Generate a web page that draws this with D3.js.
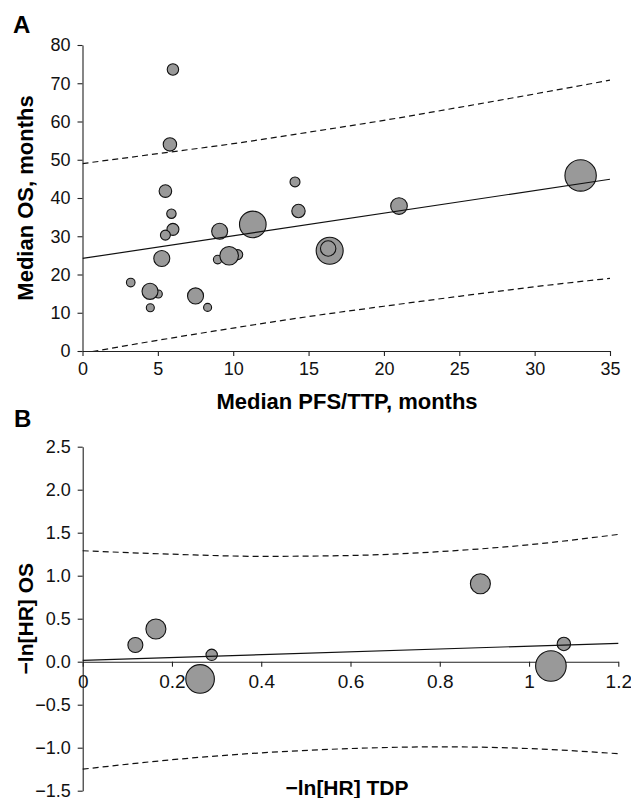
<!DOCTYPE html>
<html>
  <head>
    <meta charset="utf-8">
    <title>PFS vs OS</title>
    <style>
      body { margin: 0; background: #fff; }
      svg { display: block; }
    </style>
  </head>
  <body>
    <div id="container"></div>
    <script type="text/javascript" src="https://cdn.jsdelivr.net/npm/d3@7"></script>
    <script>
      // panel A: median PFS/TTP vs median OS (months), bubble = sample size
      var pfsA = [6.0, 5.8, 5.5, 14.1, 5.9, 6.0, 5.5, 5.03, 4.48, 5.26, 3.2, 4.5,
                  7.5, 8.3, 9.1, 8.97, 10.3, 9.73, 11.3, 14.33, 16.4, 16.3, 21.0, 33.05];
      var osA  = [73.6, 54.0, 41.8, 44.2, 35.9, 31.8, 30.3, 14.9, 15.6, 24.2, 17.9, 11.3,
                  14.4, 11.4, 31.3, 23.9, 25.2, 24.9, 33.1, 36.6, 26.2, 26.8, 37.9, 45.9];
      var nA   = [132, 182, 161, 101, 90, 146, 101, 65, 260, 260, 75, 65,
                  260, 65, 260, 75, 101, 351, 718, 182, 740, 241, 280, 1000];
      var fitAx = [0, 35], fitAy = [24.2, 44.9];
      var bandAx = [0, 5, 10, 15, 20, 25, 30, 35];
      var upperA = [49.0, 51.6, 54.2, 57.2, 60.3, 63.7, 67.2, 70.8];
      var lowerA = [-0.6, 2.8, 6.0, 9.0, 11.7, 14.3, 16.8, 19.0];
      var ticksAx = [0, 5, 10, 15, 20, 25, 30, 35];
      var ticksAy = [0, 10, 20, 30, 40, 50, 60, 70, 80];

      // panel B: -ln[HR] TDP vs -ln[HR] OS
      var tdpB = [0.118, 0.164, 0.289, 0.263, 0.891, 1.078, 1.049];
      var osB  = [0.194, 0.38, 0.08, -0.20, 0.907, 0.206, -0.05];
      var nB   = [228, 406, 132, 830, 406, 182, 950];
      var fitBx = [0, 1.2], fitBy = [0.015, 0.214];
      var bandBx = [0, 0.2, 0.4, 0.6, 0.8, 1.0, 1.2];
      var upperB = [1.29, 1.25, 1.225, 1.235, 1.28, 1.36, 1.48];
      var lowerB = [-1.25, -1.14, -1.06, -1.01, -0.99, -1.01, -1.07];
      var ticksBx = [0, 0.2, 0.4, 0.6, 0.8, 1, 1.2];
      var ticksBy = [-1.5, -1.0, -0.5, 0, 0.5, 1.0, 1.5, 2.0, 2.5];

      var font = "'Liberation Sans', Arial, sans-serif";
      var width = 631, height = 798;

      var svg = d3.select("#container").append("svg")
        .attr("width", width)
        .attr("height", height)
        .attr("font-family", font);

      var r = d3.scaleSqrt().domain([0, 1000]).range([0, 15.7]);

      function styleAxis(g, size) {
        g.attr("font-family", font).attr("font-size", size);
        g.selectAll("path, line").attr("stroke", "#222").attr("stroke-width", 1.1);
        g.selectAll("text").attr("fill", "#111");
      }

      function dashed(g, xs, ys, x, y) {
        var line = d3.line()
          .x(function(d, i) { return x(xs[i]); })
          .y(function(d) { return y(d); })
          .curve(d3.curveMonotoneX);
        g.append("path")
          .attr("d", line(ys))
          .attr("fill", "none")
          .attr("stroke", "#111")
          .attr("stroke-width", 1.2)
          .attr("stroke-dasharray", "6,4");
      }

      // ---------- panel A ----------
      var xA = d3.scaleLinear().domain([0, 35]).range([82.5, 610]);
      var yA = d3.scaleLinear().domain([0, 80]).range([351, 45]);

      svg.append("clipPath").attr("id", "clipA")
        .append("rect").attr("x", xA(0)).attr("y", yA(80))
        .attr("width", xA(35) - xA(0)).attr("height", yA(0) - yA(80));

      var gA = svg.append("g");
      gA.append("g")
        .attr("transform", "translate(0," + yA(0) + ")")
        .call(d3.axisBottom(xA).tickValues(ticksAx).tickSize(5).tickPadding(6).tickSizeOuter(0))
        .call(styleAxis, 18);
      gA.append("g")
        .attr("transform", "translate(" + xA(0) + ",0)")
        .call(d3.axisLeft(yA).tickValues(ticksAy).tickSize(5).tickPadding(7).tickSizeOuter(0))
        .call(styleAxis, 18);

      gA.selectAll("circle.pt")
        .data(pfsA)
      .enter().append("circle")
        .attr("class", "pt")
        .attr("cx", function(d) { return xA(d); })
        .attr("cy", function(d, i) { return yA(osA[i]); })
        .attr("r", function(d, i) { return r(nA[i]); })
        .attr("fill", "#999")
        .attr("stroke", "#111")
        .attr("stroke-width", 1.1);

      var linesA = gA.append("g").attr("clip-path", "url(#clipA)");
      dashed(linesA, bandAx, upperA, xA, yA);
      dashed(linesA, bandAx, lowerA, xA, yA);
      linesA.append("line")
        .attr("x1", xA(fitAx[0])).attr("y1", yA(fitAy[0]))
        .attr("x2", xA(fitAx[1])).attr("y2", yA(fitAy[1]))
        .attr("stroke", "#111").attr("stroke-width", 1.2);

      svg.append("text").text("A")
        .attr("x", 13).attr("y", 33)
        .attr("font-size", 24).attr("font-weight", "bold");
      svg.append("text").text("Median PFS/TTP, months")
        .attr("x", 347).attr("y", 409)
        .attr("text-anchor", "middle")
        .attr("font-size", 22).attr("font-weight", "bold");
      svg.append("text").text("Median OS, months")
        .attr("transform", "translate(33," + (yA(0) + yA(80)) / 2 + ") rotate(-90)")
        .attr("text-anchor", "middle")
        .attr("font-size", 22).attr("font-weight", "bold");

      // ---------- panel B ----------
      var xB = d3.scaleLinear().domain([0, 1.2]).range([82.7, 618.3]);
      var yB = d3.scaleLinear().domain([-1.5, 2.5]).range([790.7, 446.7]);

      var gB = svg.append("g");
      gB.append("g")
        .attr("transform", "translate(0," + yB(0) + ")")
        .call(d3.axisBottom(xB).tickValues(ticksBx).tickSize(5).tickPadding(8).tickSizeOuter(0)
          .tickFormat(function(d) { return d === 0 || d === 1 ? String(d) : d3.format(".1f")(d); }))
        .call(styleAxis, 19);
      gB.append("g")
        .attr("transform", "translate(" + xB(0) + ",0)")
        .call(d3.axisLeft(yB).tickValues(ticksBy).tickSize(5).tickPadding(7).tickSizeOuter(0)
          .tickFormat(function(d) { return d3.format(".1f")(d).replace("-", "\u2212"); }))
        .call(styleAxis, 18);

      gB.selectAll("circle.pt")
        .data(tdpB)
      .enter().append("circle")
        .attr("class", "pt")
        .attr("cx", function(d) { return xB(d); })
        .attr("cy", function(d, i) { return yB(osB[i]); })
        .attr("r", function(d, i) { return r(nB[i]); })
        .attr("fill", "#999")
        .attr("stroke", "#111")
        .attr("stroke-width", 1.1);

      dashed(gB, bandBx, upperB, xB, yB);
      dashed(gB, bandBx, lowerB, xB, yB);
      gB.append("line")
        .attr("x1", xB(fitBx[0])).attr("y1", yB(fitBy[0]))
        .attr("x2", xB(fitBx[1])).attr("y2", yB(fitBy[1]))
        .attr("stroke", "#111").attr("stroke-width", 1.2);

      svg.append("text").text("B")
        .attr("x", 14).attr("y", 427)
        .attr("font-size", 24).attr("font-weight", "bold");
      svg.append("text").text("\u2212ln[HR] TDP")
        .attr("x", 347).attr("y", 795)
        .attr("text-anchor", "middle")
        .attr("font-size", 21).attr("font-weight", "bold");
      svg.append("text").text("\u2212ln[HR] OS")
        .attr("transform", "translate(33," + (yB(-1.5) + yB(2.5)) / 2 + ") rotate(-90)")
        .attr("text-anchor", "middle")
        .attr("font-size", 21).attr("font-weight", "bold");
    </script>
  </body>
</html>
